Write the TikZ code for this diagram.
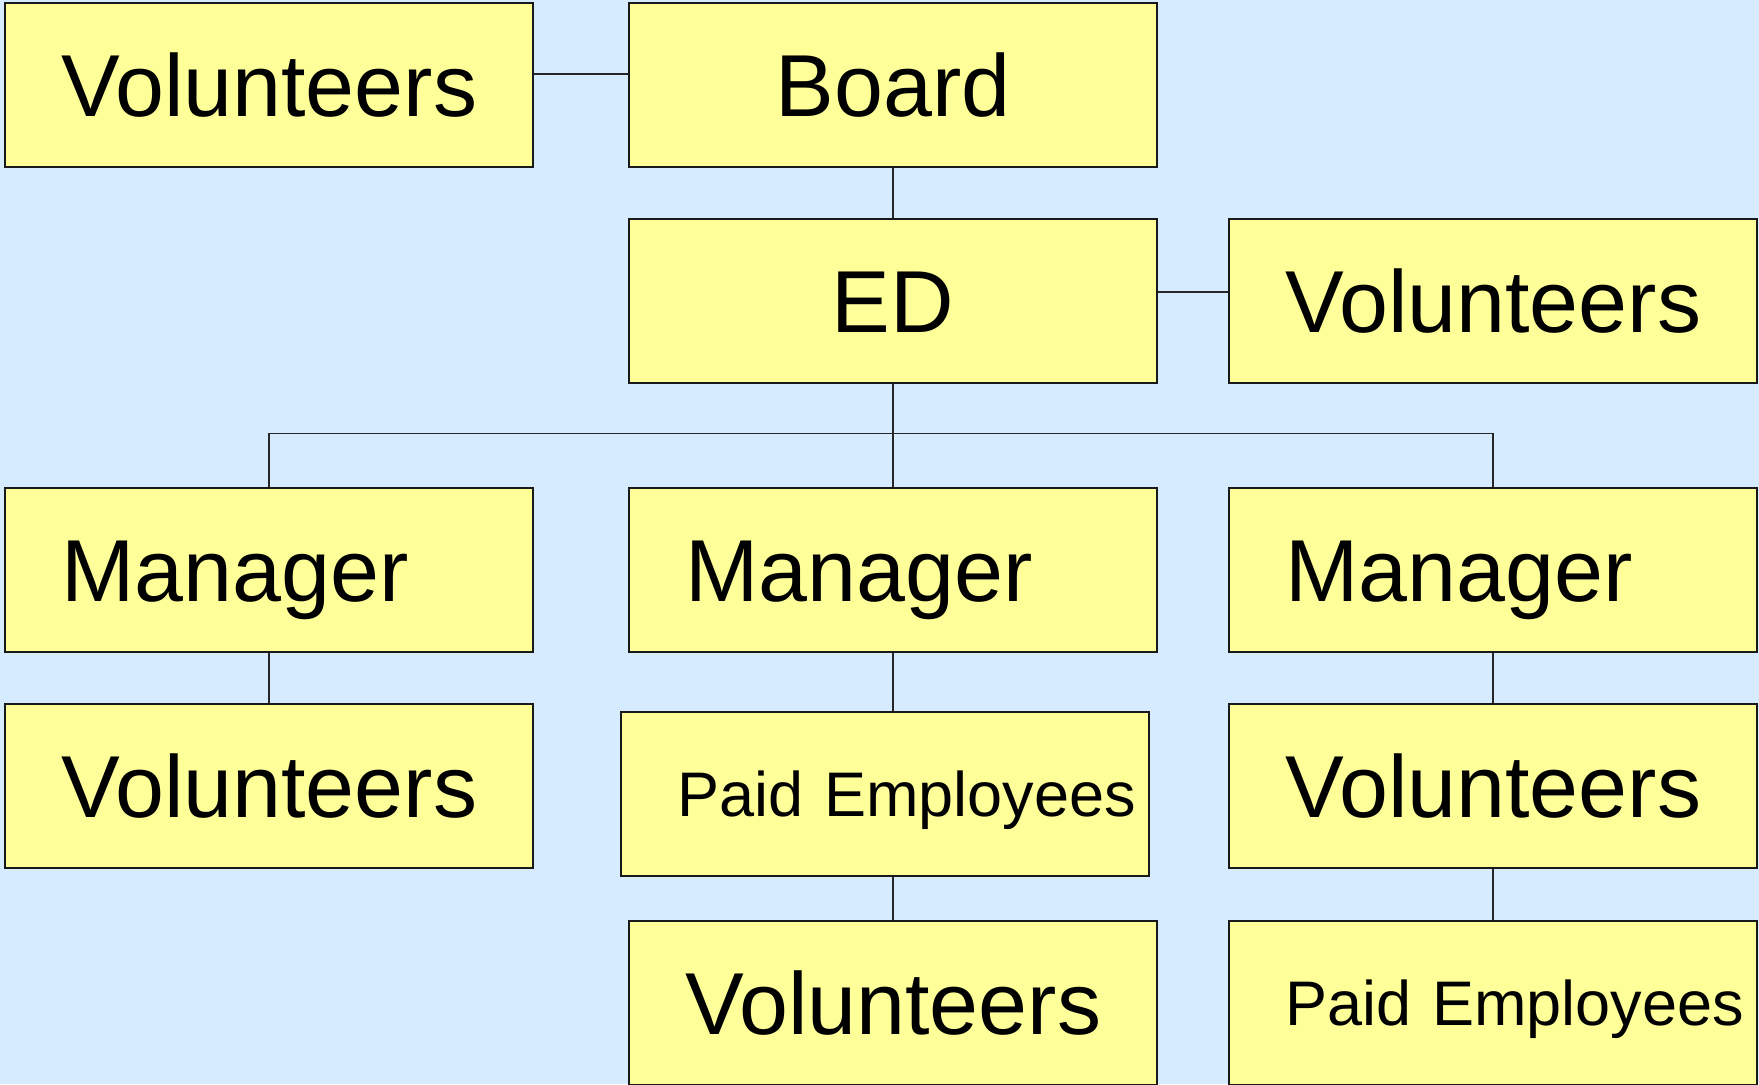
\documentclass[tikz,border=0pt]{standalone}
\usepackage{fontspec}
\setmainfont{Liberation Sans}
\usetikzlibrary{calc}
\definecolor{chartbg}{RGB}{215,235,255}
\definecolor{boxfill}{RGB}{255,255,153}
\tikzset{
  unit/.style={draw=black!90, line width=1pt, fill=boxfill, minimum width=263.75pt,
    minimum height=82pt, inner sep=0pt, text height=31.5pt, text depth=0pt,
    font=\fontsize{44}{48}\selectfont},
  unitl/.style={unit, text width=207.75pt, inner xsep=28pt, align=left,
    execute at begin node={\hbox to 0pt\bgroup}, execute at end node={\hss\egroup}},
  small/.style={font=\fontsize{31.5}{36}\selectfont, text height=22.6pt},
  link/.style={line width=0.75pt, draw=black!85}
}
\begin{document}
\begin{tikzpicture}[x=0.5pt,y=-0.5pt]
\useasboundingbox (0,0) rectangle (1759,1084);
\fill[chartbg] (0,0) rectangle (1759,1084);

% top rows
\node[unitl] (vtl) at (269,85) {Volunteers};
\node[unit] (board) at (893,85) {Board};
\node[unit] (ed) at (893,301) {ED};
\node[unitl] (vr) at (1493,301) {Volunteers};

% managers
\node[unitl] (m1) at (269,570) {Manager};
\node[unitl] (m2) at (893,570) {Manager};
\node[unitl] (m3) at (1493,570) {Manager};

% below the managers
\node[unitl] (v1) at (269,786) {Volunteers};
\node[unitl,small] (p2) at (885,794) {Paid Employees};
\node[unitl] (v3) at (1493,786) {Volunteers};
\node[unitl] (v2) at (893,1003) {Volunteers};
\node[unitl,small] (p3) at (1493,1003) {Paid Employees};

\draw[link] ([yshift=5.5pt]vtl.east) -- ([yshift=5.5pt]vtl.east -| board.west);
\draw[link] (board.south) -- (ed.north);
\draw[link] ([yshift=4.6pt]ed.east) -- ([yshift=4.6pt]ed.east -| vr.west);
\draw[link] (ed.south) -- (m2.north);
\coordinate (bus) at ($(ed.south)!0.48!(m2.north)$);
\draw[link] (m1.north) |- (bus) -| (m3.north);
\draw[link] (m1.south) -- (v1.north);
\draw[link] (m2.south) -- (m2.south |- p2.north);
\draw[link] (m2.south |- p2.south) -- (v2.north);
\draw[link] (m3.south) -- (v3.north);
\draw[link] (v3.south) -- (p3.north);
\end{tikzpicture}
\end{document}
